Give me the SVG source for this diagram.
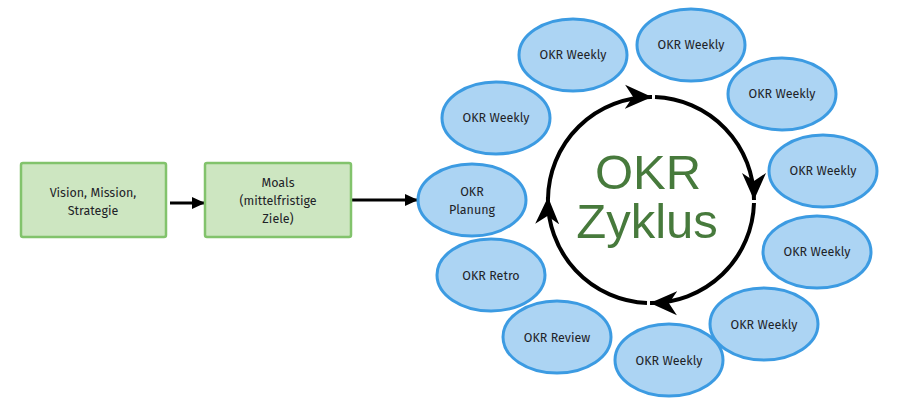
<svg xmlns="http://www.w3.org/2000/svg" width="900" height="400" viewBox="0 0 900 400">
<style>
.box{fill:#cde6c1;stroke:#82c36c;stroke-width:2.5}
.ell{fill:#acd4f3;stroke:#3c9be2;stroke-width:3}
.t{font-family:"Fira Sans","Open Sans","Noto Sans",sans-serif;font-size:12.5px;fill:#1e2328;text-anchor:middle}
.big{font-family:"Liberation Sans",Arial,sans-serif;font-size:49px;fill:#477a3c;text-anchor:middle}
.ln{fill:none;stroke:#000;stroke-width:3}
.arc{fill:none;stroke:#000;stroke-width:4}
</style>
<defs>
<marker id="tri" markerUnits="userSpaceOnUse" markerWidth="14" markerHeight="14" refX="13" refY="7" orient="auto">
<path d="M0,1 L13,7 L0,13 z" fill="#000"/>
</marker>
<marker id="barb" markerUnits="userSpaceOnUse" markerWidth="30" markerHeight="26" refX="27" refY="13" orient="auto">
<path d="M0,1 L27,13 L0,25 L8,13 z" fill="#000"/>
</marker>
</defs>
<g id="connectors">
<path class="ln" d="M170,203 L205,203" marker-end="url(#tri)"/>
<path class="ln" d="M352,200 L418,200" marker-end="url(#tri)"/>
<path class="arc" d="M548,199 A103,103 0 0 1 652,97" marker-end="url(#barb)"/>
<path class="arc" d="M655,97 A103,103 0 0 1 754,200" marker-end="url(#barb)"/>
<path class="arc" d="M754,203 A103,103 0 0 1 650,303" marker-end="url(#barb)"/>
<path class="arc" d="M647,303 A103,103 0 0 1 548,197" marker-end="url(#barb)"/>
</g>
<g id="vision"><rect class="box" x="21" y="163" width="145" height="74" rx="2"/><text class="t" x="93" y="197">Vision, Mission,</text><text class="t" x="93" y="215">Strategie</text></g>
<g id="moals"><rect class="box" x="205" y="163" width="146" height="74" rx="2"/><text class="t" x="278" y="187">Moals</text><text class="t" x="278" y="205">(mittelfristige</text><text class="t" x="278" y="223">Ziele)</text></g>
<g id="zyklus"><text class="big" x="648" y="189">OKR</text><text class="big" x="647" y="238">Zyklus</text></g>
<g id="planung"><ellipse class="ell" cx="472" cy="200" rx="54" ry="36"/><text class="t" x="472" y="196">OKR</text><text class="t" x="472" y="214">Planung</text></g>
<g id="weekly1"><ellipse class="ell" cx="496" cy="118" rx="54" ry="36"/><text class="t" x="496" y="122">OKR Weekly</text></g>
<g id="weekly2"><ellipse class="ell" cx="573" cy="55" rx="54" ry="36"/><text class="t" x="573" y="59">OKR Weekly</text></g>
<g id="weekly3"><ellipse class="ell" cx="691" cy="45" rx="54" ry="36"/><text class="t" x="691" y="49">OKR Weekly</text></g>
<g id="weekly4"><ellipse class="ell" cx="782" cy="94" rx="54" ry="36"/><text class="t" x="782" y="98">OKR Weekly</text></g>
<g id="weekly5"><ellipse class="ell" cx="823" cy="171" rx="54" ry="36"/><text class="t" x="823" y="175">OKR Weekly</text></g>
<g id="weekly6"><ellipse class="ell" cx="817" cy="252" rx="54" ry="36"/><text class="t" x="817" y="256">OKR Weekly</text></g>
<g id="weekly7"><ellipse class="ell" cx="764" cy="324" rx="54" ry="36"/><text class="t" x="764" y="329">OKR Weekly</text></g>
<g id="weekly8"><ellipse class="ell" cx="669" cy="360" rx="54" ry="36"/><text class="t" x="669" y="365">OKR Weekly</text></g>
<g id="review"><ellipse class="ell" cx="557" cy="337" rx="54" ry="36"/><text class="t" x="557" y="342">OKR Review</text></g>
<g id="retro"><ellipse class="ell" cx="491" cy="275" rx="54" ry="36"/><text class="t" x="491" y="280">OKR Retro</text></g>
</svg>
